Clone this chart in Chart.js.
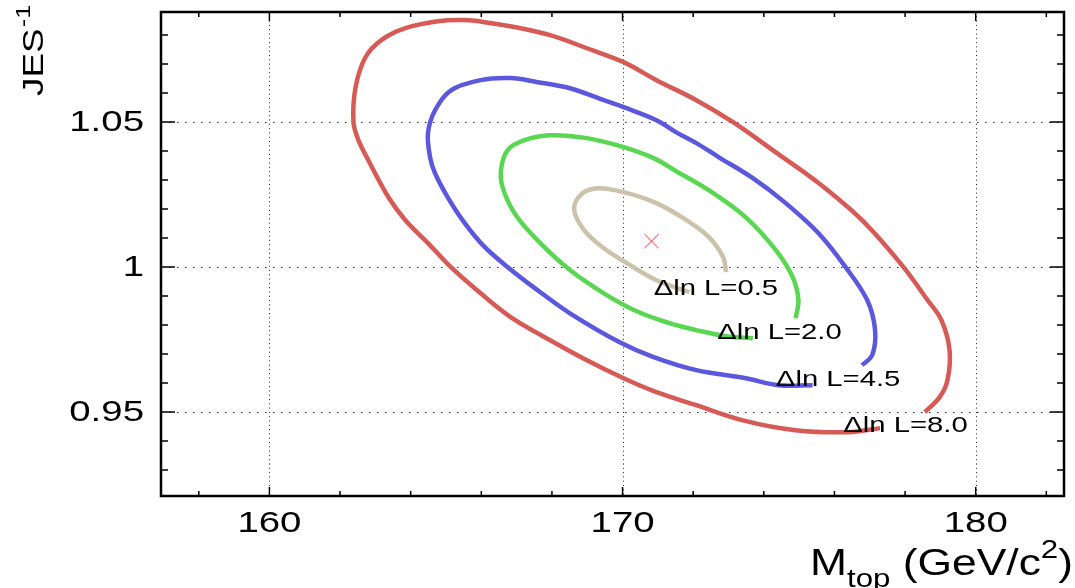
<!DOCTYPE html>
<html><head><meta charset="utf-8">
<script src="https://cdn.jsdelivr.net/npm/chart.js@4.4.0/dist/chart.umd.min.js"></script>
<style>html,body{margin:0;padding:0;background:#fff;overflow:hidden}</style>
</head><body>
<canvas id="c" width="1075" height="588"></canvas>
<script>
// ---- data ----
const xTicks = [160, 170, 180];
const xTickLabels = ['160', '170', '180'];
const yTicks = [0.95, 1.0, 1.05];
const yTickLabels = ['0.95', '1', '1.05'];

// ΔlnL = 8.0 contour
const c80Mtop = [178.56,178.98,179.20,179.26,179.03,178.64,177.91,176.78,175.55,174.34,173.13,172.09,170.96,170.03,168.99,167.95,166.94,166.10,165.53,164.77,163.85,163.17,162.72,162.44,162.38,162.52,162.80,163.37,163.85,164.49,165.14,165.98,166.83,167.95,168.99,170.03,170.96,172.09,173.41,174.90,176.39,177.29];
const c80Jes  = [0.9499,0.9551,0.9609,0.9713,0.9816,0.9885,1.0006,1.0161,1.0289,1.0395,1.0499,1.0575,1.0644,1.0706,1.0754,1.0799,1.0827,1.0844,1.0851,1.0847,1.0823,1.0782,1.0723,1.0620,1.0499,1.0437,1.0368,1.0240,1.0161,1.0082,0.9999,0.9909,0.9827,0.9747,0.9678,0.9616,0.9568,0.9523,0.9471,0.9437,0.9430,0.9444];
// ΔlnL = 4.5 contour
const c45Mtop = [176.78,177.07,177.15,176.93,176.31,175.55,174.62,173.69,172.73,172.09,171.52,170.96,170.03,169.47,168.51,167.59,166.83,165.98,165.14,164.69,164.49,164.55,164.69,165.05,165.53,166.10,166.74,167.59,168.51,169.92,170.88,172.09,173.49,174.42,175.38];
const c45Jes  = [0.9661,0.9696,0.9782,0.9885,1.0000,1.0116,1.0220,1.0306,1.0378,1.0427,1.0464,1.0506,1.0551,1.0575,1.0616,1.0637,1.0651,1.0644,1.0609,1.0540,1.0461,1.0378,1.0323,1.0240,1.0151,1.0068,1.0000,0.9920,0.9840,0.9740,0.9689,0.9644,0.9616,0.9592,0.9592];
// ΔlnL = 2.0 contour
const c20Mtop = [174.90,174.98,174.82,174.34,173.49,172.45,171.52,170.88,170.03,168.99,167.95,167.22,166.74,166.55,166.66,167.02,167.67,168.51,169.47,170.40,171.33,172.09,172.93,173.69];
const c20Jes  = [0.9823,0.9885,0.9964,1.0058,1.0171,1.0264,1.0330,1.0375,1.0413,1.0444,1.0454,1.0437,1.0402,1.0323,1.0254,1.0171,1.0082,0.9989,0.9909,0.9847,0.9806,0.9782,0.9761,0.9754];
// ΔlnL = 0.5 contour
const c05Mtop = [172.93,172.85,172.45,171.81,170.96,170.03,169.27,168.80,168.63,168.91,169.47,170.12,170.96,171.89];
const c05Jes  = [0.9982,1.0033,1.0102,1.0161,1.0220,1.0258,1.0271,1.0247,1.0196,1.0127,1.0064,1.0013,0.9954,0.9913];
// best fit point
const bestMtop = [170.82];
const bestJes = [1.0089];
// contour labels
const labelText = ['\u0394ln L=0.5', '\u0394ln L=2.0', '\u0394ln L=4.5', '\u0394ln L=8.0'];
const labelMtop = [170.88, 172.68, 174.34, 176.25];
const labelJes  = [0.9930, 0.9778, 0.9616, 0.9458];

// ---- helpers ----
const pts = (xs, ys) => xs.map((v, i) => ({x: v, y: ys[i]}));
const FONT = '"Liberation Sans", Arial, Helvetica, sans-serif';

function sText(ctx, txt, x, y, sx, align, font) {
  ctx.save();
  ctx.font = font;
  ctx.translate(x, y);
  ctx.scale(sx, 1);
  ctx.textAlign = align;
  ctx.textBaseline = 'alphabetic';
  ctx.fillText(txt, 0, 0);
  ctx.restore();
}

const rootFrame = {
  id: 'rootFrame',
  beforeDatasetsDraw(chart) {
    const {ctx, chartArea: a, scales: {x, y}} = chart;
    ctx.save();
    ctx.strokeStyle = '#222';
    ctx.lineWidth = 1;
    ctx.setLineDash([1, 3.3]);
    xTicks.forEach(v => {
      const px = Math.round(x.getPixelForValue(v)) + 0.5;
      ctx.beginPath(); ctx.moveTo(px, a.top); ctx.lineTo(px, a.bottom); ctx.stroke();
    });
    ctx.setLineDash([1.5, 6.5]);
    yTicks.forEach(v => {
      const py = Math.round(y.getPixelForValue(v)) + 0.5;
      ctx.beginPath(); ctx.moveTo(a.left, py); ctx.lineTo(a.right, py); ctx.stroke();
    });
    ctx.restore();
  },
  afterDatasetsDraw(chart) {
    const {ctx, chartArea: a, scales: {x, y}} = chart;
    ctx.save();
    ctx.setLineDash([]);
    ctx.strokeStyle = '#000';
    ctx.lineWidth = 1.5;
    for (let v = 158; v <= 182.01; v += 2) {
      const major = Math.abs(v % 10) < 1e-6;
      const L = major ? 9 : 5;
      const px = x.getPixelForValue(v);
      ctx.beginPath();
      ctx.moveTo(px, a.bottom); ctx.lineTo(px, a.bottom - L);
      ctx.moveTo(px, a.top); ctx.lineTo(px, a.top + L);
      ctx.stroke();
    }
    for (let k = 93; k <= 108; k++) {
      const v = k / 100;
      const major = k % 5 === 0;
      const L = major ? 14 : 7;
      const py = y.getPixelForValue(v);
      ctx.beginPath();
      ctx.moveTo(a.left, py); ctx.lineTo(a.left + L, py);
      ctx.moveTo(a.right, py); ctx.lineTo(a.right - L, py);
      ctx.stroke();
    }
    ctx.lineWidth = 2.5;
    ctx.strokeRect(a.left, a.top, a.right - a.left, a.bottom - a.top);
    ctx.restore();

    ctx.save();
    ctx.fillStyle = '#000';
    const tf = '30px ' + FONT;
    xTicks.forEach((v, i) => sText(ctx, xTickLabels[i], x.getPixelForValue(v), 532, 1.28, 'center', tf));
    yTicks.forEach((v, i) => sText(ctx, yTickLabels[i], 144, y.getPixelForValue(v) + 9, 1.28, 'right', tf));
    const lf = '22px ' + FONT;
    labelText.forEach((t, i) => sText(ctx, t, x.getPixelForValue(labelMtop[i]), y.getPixelForValue(labelJes[i]) + 8, 1.33, 'left', lf));

    const big = '37px ' + FONT, small = '26px ' + FONT;
    const sx = 1.2;
    const parts = [
      {t: 'M', f: big, dy: 0},
      {t: 'top', f: small, dy: 12},
      {t: ' (GeV/c', f: big, dy: 0},
      {t: '2', f: small, dy: -17},
      {t: ')', f: big, dy: 0}
    ];
    let total = 0;
    parts.forEach(p => { ctx.font = p.f; p.w = ctx.measureText(p.t).width * sx; total += p.w; });
    let cx = 1073 - total;
    const base = 575;
    parts.forEach(p => { sText(ctx, p.t, cx, base + p.dy, sx, 'left', p.f); cx += p.w; });

    ctx.save();
    ctx.translate(43, 96);
    ctx.rotate(-Math.PI / 2);
    ctx.scale(1.27, 1);
    ctx.font = '29px ' + FONT;
    ctx.textAlign = 'left';
    ctx.fillText('JES', 0, 0);
    const wj = ctx.measureText('JES').width;
    ctx.font = '20px ' + FONT;
    ctx.fillText('-1', wj + 1, -13);
    ctx.restore();
    ctx.restore();
  }
};

const lineDs = (xs, ys, color) => ({
  data: pts(xs, ys), showLine: true, borderColor: color, backgroundColor: color,
  borderWidth: 4.5, pointRadius: 0, tension: 0.35, fill: false, borderCapStyle: 'butt', borderJoinStyle: 'round'
});

new Chart(document.getElementById('c'), {
  type: 'scatter',
  data: {
    datasets: [
      lineDs(c80Mtop, c80Jes, '#d65a55'),
      lineDs(c45Mtop, c45Jes, '#5b58de'),
      lineDs(c20Mtop, c20Jes, '#5ad653'),
      lineDs(c05Mtop, c05Jes, '#cbc2ab'),
      {data: pts(bestMtop, bestJes), pointStyle: 'crossRot', pointRadius: 10, borderColor: '#ff3030', borderWidth: 1, showLine: false}
    ]
  },
  options: {
    responsive: false, animation: false, events: [], devicePixelRatio: 1,
    layout: {padding: {left: 161, right: 4, top: 12, bottom: 92}},
    plugins: {legend: {display: false}, tooltip: {enabled: false}},
    scales: {
      x: {type: 'linear', min: 156.93, max: 182.5, display: false},
      y: {type: 'linear', min: 0.921, max: 1.0879, display: false}
    }
  },
  plugins: [rootFrame]
});
</script>
</body></html>
